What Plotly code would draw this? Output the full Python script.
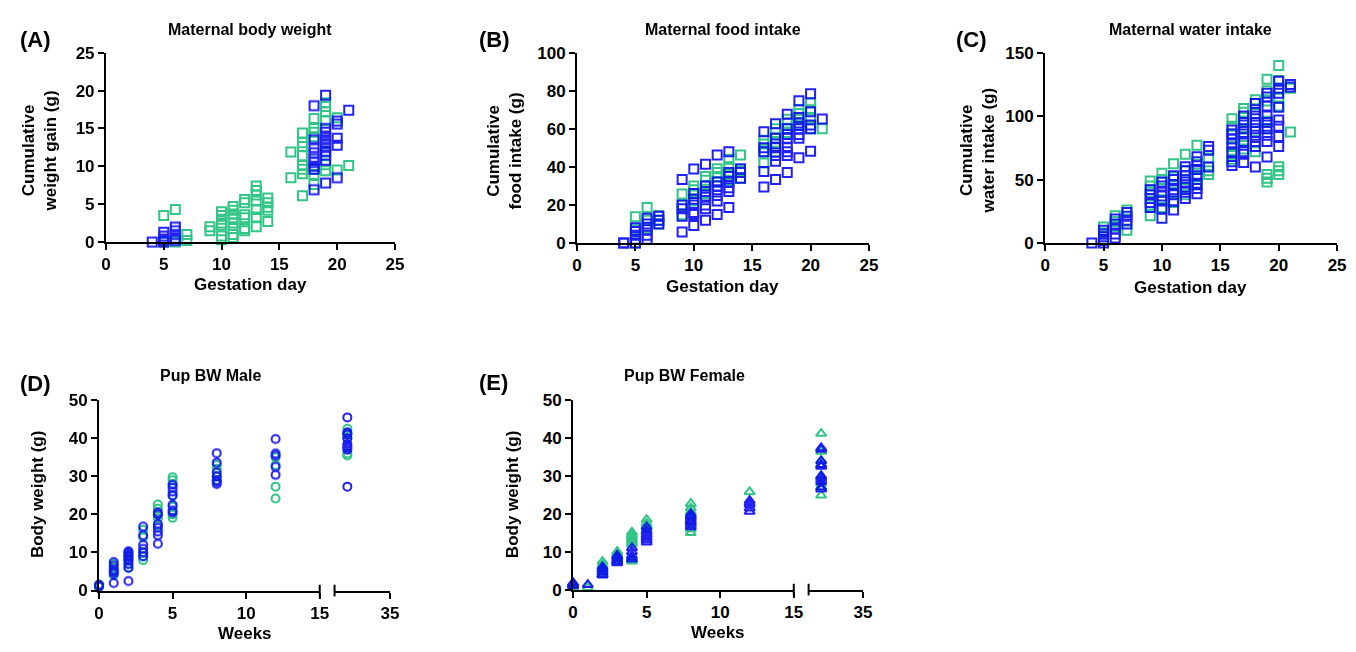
import plotly.graph_objects as go

W, H = 1356, 652
GREEN = "#1DBF7A"
BLUE = "#0A0AF0"
FONT = "Liberation Sans, Arial, sans-serif"

# ---------------- data ----------------
# Panel A: cumulative weight gain (g) by gestation day
A_green = {5: [3.5, 0.0], 6: [4.3, 0.0], 7: [1.0, 0.2], 9: [2.0, 1.5],
           10: [4.0, 3.5, 3.0, 2.5, 2.2, 0.8, 0.3],
           11: [4.7, 4.2, 3.7, 3.2, 2.5, 1.8, 1.0, 0.6],
           12: [5.6, 5.2, 3.6, 3.2, 1.8, 1.5],
           13: [7.4, 6.8, 6.2, 5.4, 4.3, 3.3, 2.0],
           14: [5.8, 5.2, 4.6, 4.2, 2.7],
           16: [11.9, 8.5],
           17: [14.4, 13.1, 12.6, 11.4, 10.1, 9.6, 9.0, 6.1],
           18: [16.3, 15.0, 14.5, 13.9, 9.6, 8.9, 7.6],
           19: [18.4, 17.9, 17.2, 16.0, 11.9, 10.2, 9.4],
           20: [16.4, 9.5], 21: [10.1]}
A_blue = {4: [0.0], 5: [1.3, 0.8, 0.4, 0.2, 0.0], 6: [2.0, 1.5, 1.0, 0.5, 0.2],
          18: [18.0, 13.5, 12.5, 11.8, 11.0, 10.5, 10.0, 9.6, 6.9],
          19: [19.4, 15.0, 14.5, 14.0, 13.5, 13.0, 12.5, 12.0, 11.5, 10.8, 7.8],
          20: [16.0, 15.6, 13.7, 12.8, 8.5], 21: [17.4]}

# Panel B: cumulative food intake (g)
B_green = {5: [13.8, 7, 0], 6: [18.7, 12, 8], 7: [14.3, 12, 10],
           9: [25.8, 20, 14.8], 10: [29.9, 28, 26, 22], 11: [35, 33, 30, 26],
           12: [39, 37, 35, 32], 13: [44, 40, 36, 33], 14: [46.2, 38, 34],
           16: [54, 52, 48, 42], 17: [60, 58, 55, 53, 48], 18: [65, 63, 60, 58],
           19: [70, 68, 65, 62], 20: [73.5, 70, 66, 60], 21: [60]}
B_blue = {4: [0, 0], 5: [8, 6, 4, 2, 0], 6: [13, 10, 7, 4, 2], 7: [14, 12, 10],
          9: [33.4, 20, 18, 14, 5.8], 10: [38.9, 26, 23, 20, 16, 15, 9.2],
          11: [41.4, 30, 27, 24, 20, 18, 12], 12: [46.2, 32, 30, 28, 25, 22, 15],
          13: [48, 37, 35, 32, 29, 27, 18.7], 14: [39, 37, 34],
          16: [58.4, 50, 48, 37.5, 29.4], 17: [62.6, 55, 52, 50, 46, 43, 33.4],
          18: [67.7, 60, 57, 55, 50, 48, 46, 37], 19: [74.7, 66, 63, 60, 57, 55, 44.8],
          20: [78.4, 69, 62, 60, 48.2], 21: [65.2]}

# Panel C: cumulative water intake (g)
C_green = {5: [12.5, 8, 3], 6: [21.5, 17, 13], 7: [26, 10],
           9: [48.8, 45, 40, 30, 21.5], 10: [55, 50, 34, 28], 11: [62.4, 52, 46, 40, 32],
           12: [70, 57, 50, 44, 38], 13: [77, 62, 58, 52, 46], 14: [67, 57, 54],
           16: [98, 92, 86, 76, 70, 66], 17: [106, 103, 96, 90, 84, 74],
           18: [113, 110, 102, 95, 88, 72], 19: [129, 120, 112, 96, 90, 54, 51, 48],
           20: [140, 128, 122, 114, 108, 60, 57, 54], 21: [122, 87.4]}
C_blue = {4: [0], 5: [10, 7, 5, 2, 0], 6: [19, 15, 11, 7, 4], 7: [24, 21, 18, 15],
          9: [42, 38, 35, 32, 28], 10: [48, 45, 40, 37, 33, 27, 19.4],
          11: [53, 50, 46, 42, 38, 33, 26], 12: [60, 57, 53, 48, 44, 40, 35],
          13: [68, 64, 58, 53, 47, 43, 38.8], 14: [76, 73, 59.8],
          16: [89, 86, 82, 78, 72, 64, 61], 17: [100, 95, 90, 86, 80, 72, 70, 63.4],
          18: [110, 105, 100, 95, 90, 85, 80, 76, 59.8],
          19: [118, 115, 108, 100, 95, 90, 85, 80, 67.7],
          20: [127.5, 122, 118, 107, 97, 92, 84, 76], 21: [125, 123]}

# Panel D: pup body weight, male (g) by week
D_green = {0: [1.5, 1.2, 1.0], 1: [7, 6, 5, 4], 2: [10, 9, 8, 7, 6],
           3: [16, 14, 10, 9, 8], 4: [22.6, 21.5, 20, 19, 17],
           5: [29.8, 29, 28, 25, 22, 20, 19.1], 8: [33, 32, 30, 29],
           12: [35, 33, 27.3, 24.2], 25: [42.5, 41.5, 41, 40, 36, 35.5]}
D_blue = {0: [1.5, 1.3, 1.1], 1: [7.5, 6.5, 5.5, 5, 4.5, 2.0],
          2: [10.3, 9.8, 9.3, 8.8, 8.3, 7.8, 7.0, 6.0, 2.5],
          3: [16.8, 14.5, 12, 11, 10, 9], 4: [20.5, 20, 17.5, 16.5, 15.5, 14.5, 12.3],
          5: [27.8, 27, 26, 25, 22.5, 21, 20.5], 8: [36.1, 33.6, 31, 30, 29, 28.5, 28],
          12: [39.8, 36, 35.5, 32.5, 30.4], 25: [45.5, 41.5, 41, 40, 38.5, 38, 37.5, 37, 27.3]}

# Panel E: pup body weight, female (g) by week
E_green = {0: [1.5, 1.0, 0.5], 1: [0.5], 2: [7.4, 6.5, 5.5, 4.5, 4],
           3: [10, 9.5, 9, 8.5, 8, 7.5], 4: [15.1, 14.5, 14, 13.5, 13, 12.5, 12, 8, 7.5],
           5: [18.5, 17.5, 17, 16], 8: [22.7, 21.5, 20.5, 19.5, 18, 16, 15],
           12: [25.8], 25: [41.2, 36.5, 34, 33, 30, 28, 27, 24.9]}
E_blue = {0: [1.8, 1.5, 1.2, 1.0], 1: [1.3], 2: [6, 5.5, 5, 4.5, 4, 3.8],
          3: [9, 8.5, 8, 7.5, 7.2, 7], 4: [11, 10, 9, 8.5, 8],
          5: [16.5, 15.5, 15, 14.5, 14, 13.5, 13, 12.5],
          8: [20, 19.5, 19, 18.5, 18, 17.5, 17, 16.5],
          12: [23.5, 23, 22.5, 21.5, 20.6],
          25: [37.4, 37, 34, 33, 32.5, 30, 29.5, 29, 28.5, 27, 26.5]}

BREAK_WEEK = 15  # axis break between 15 and the last time point


def flat(d, keep=lambda k: True):
    xs, ys = [], []
    for k, vals in d.items():
        if keep(k):
            xs += [k] * len(vals)
            ys += vals
    return xs, ys


def px(x):
    return x / W


def py(y):
    return (H - y) / H


fig = go.Figure()

tickfont = dict(family=FONT, size=17, color="black", weight="bold")
axis_common = dict(showgrid=False, zeroline=False, showline=True, linecolor="black",
                   linewidth=2, ticks="outside", ticklen=6, tickwidth=2, tickcolor="black",
                   tickfont=tickfont, fixedrange=True)


def add_pts(d, color, symbol, size, xa, ya, keep=lambda k: True):
    xs, ys = flat(d, keep)
    fig.add_trace(go.Scatter(x=xs, y=ys, mode="markers", xaxis=xa, yaxis=ya,
                             cliponaxis=False, showlegend=False, opacity=0.9,
                             marker=dict(symbol=symbol, size=size, color=color,
                                         line=dict(color=color, width=2))))


# maternal panels
for i, (g, b) in enumerate([(A_green, A_blue), (B_green, B_blue), (C_green, C_blue)], start=1):
    xa, ya = f"x{i}", f"y{i}"
    add_pts(g, GREEN, "square-open", 9, xa, ya)
    add_pts(b, BLUE, "square-open", 9, xa, ya)

# pup panels: x4/x6 with y4 (D), x5/x7 with y5 (E)
for d, (xa, xb, ya), sym, sz in [((D_green, D_blue), ("x4", "x6", "y4"), "circle-open", 8),
                                  ((E_green, E_blue), ("x5", "x7", "y5"), "triangle-up-open", 9)]:
    for dd, col in [(d[0], GREEN), (d[1], BLUE)]:
        add_pts(dd, col, sym, sz, xa, ya, keep=lambda k: k <= BREAK_WEEK)
        add_pts(dd, col, sym, sz, xb, ya, keep=lambda k: k > BREAK_WEEK)

# layout geometry (pixels)
geo = {
    1: dict(x=(102, 394), y=(240, 45)),
    2: dict(x=(578, 873), y=(241, 45)),
    3: dict(x=(1051, 1346), y=(241, 45)),
}
lay = dict(autosize=True, margin=dict(l=0, r=0, t=0, b=0, pad=0),
           plot_bgcolor="white", paper_bgcolor="white")
for i, (ymax, ydt) in zip([1, 2, 3], [(25, 5), (100, 20), (150, 50)]):
    gx, gy = geo[i]["x"], geo[i]["y"]
    lay[f"xaxis{i}"] = dict(axis_common, domain=[px(gx[0]), px(gx[1])], range=[0, 25],
                            dtick=5, tick0=0, anchor=f"y{i}")
    lay[f"yaxis{i}"] = dict(axis_common, domain=[py(gy[0]), py(gy[1])], range=[0, ymax],
                            dtick=ydt, tick0=0, anchor=f"x{i}")

pup = {4: dict(x1=(95, 318), x2=(333, 389), y=(599, 403), xb=6),
       5: dict(x1=(574, 797), x2=(812, 867), y=(598, 403), xb=7)}
shapes = []
for i, g in pup.items():
    lay[f"xaxis{i}"] = dict(axis_common, domain=[px(g["x1"][0]), px(g["x1"][1])],
                            range=[0, BREAK_WEEK], tickvals=[0, 5, 10, 15], anchor=f"y{i}")
    lay[f"xaxis{g['xb']}"] = dict(axis_common, domain=[px(g["x2"][0]), px(g["x2"][1])],
                                  range=[22, 35], tickvals=[35], anchor=f"y{i}")
    lay[f"yaxis{i}"] = dict(axis_common, domain=[py(g["y"][0]), py(g["y"][1])],
                            range=[0, 50], dtick=10, tick0=0, anchor=f"x{i}")
    # break caps
    for xp in (g["x1"][1], g["x2"][0]):
        shapes.append(dict(type="line", xref="paper", yref="paper",
                           x0=px(xp), x1=px(xp), y0=py(g["y"][0] + 6), y1=py(g["y"][0] - 6),
                           line=dict(color="black", width=2)))
lay["shapes"] = shapes

ann = []


def text(s, x, y, size, angle=0):
    ann.append(dict(text=s, x=px(x), y=py(y), xref="paper", yref="paper", showarrow=False,
                    xanchor="center", yanchor="middle", textangle=angle,
                    font=dict(family=FONT, size=size, color="black", weight="bold")))


# panel letters
for s, x, y in [("(A)", 31, 31), ("(B)", 495, 31), ("(C)", 977, 31), ("(D)", 31, 386), ("(E)", 494, 385)]:
    text(s, x, y, 22)
# titles
for s, x, y in [("Maternal body weight", 248, 21), ("Maternal food intake", 725, 21),
                ("Maternal water intake", 1198, 21), ("Pup BW Male", 208, 378),
                ("Pup BW Female", 687, 378)]:
    text(s, x, y, 16)
# x titles
for s, x, y in [("Gestation day", 248, 284), ("Gestation day", 725, 286),
                ("Gestation day", 1198, 287), ("Weeks", 242, 643), ("Weeks", 720, 642)]:
    text(s, x, y, 17)
# y titles
for s, x, y in [("Cumulative<br>weight gain (g)", 35, 146), ("Cumulative<br>food intake (g)", 505, 146),
                ("Cumulative<br>water intake (g)", 983, 146), ("Body weight (g)", 33, 500),
                ("Body weight (g)", 513, 500)]:
    text(s, x, y, 17, angle=-90)
lay["annotations"] = ann

fig.update_layout(**lay)
fig.write_html("out.html", default_width="100vw", default_height="100vh",
               config={"displayModeBar": False, "responsive": True},
               post_script="document.body.style.margin='0';document.body.style.overflow='hidden';"
                           "window.dispatchEvent(new Event('resize'));")
